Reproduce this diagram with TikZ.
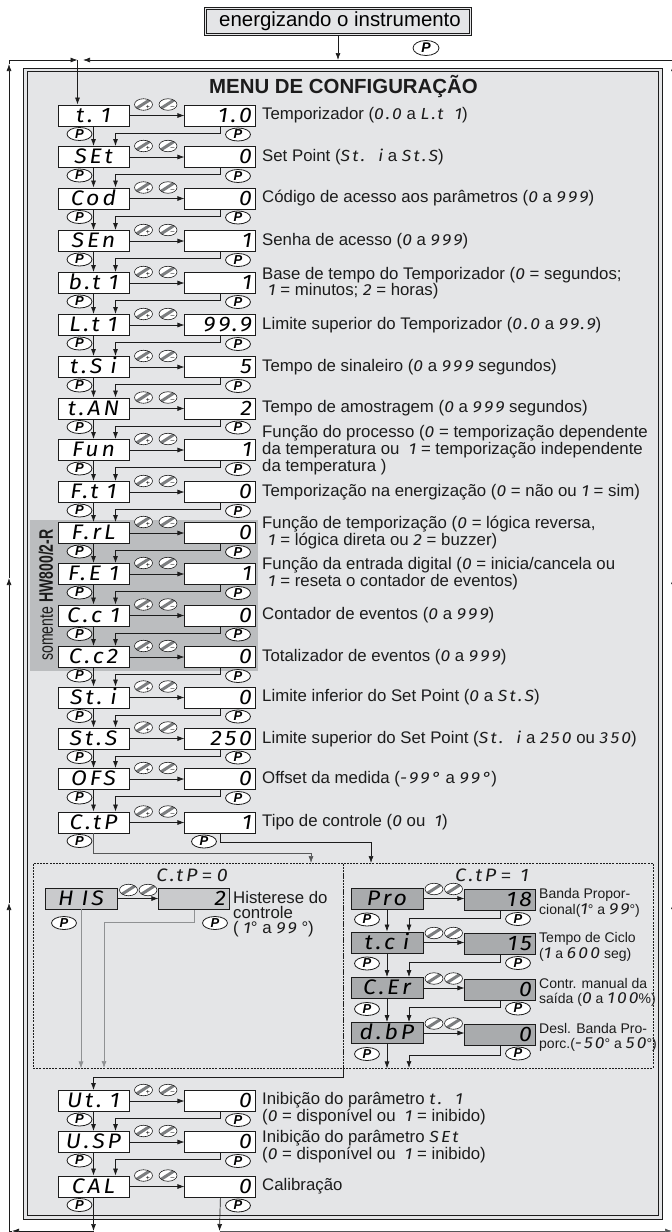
\documentclass[tikz,border=0pt]{standalone}
\usepackage{fontspec}
\usepackage{amsmath}
\usepackage{xcolor}
\usepackage{tikz}
\usetikzlibrary{positioning, shapes.geometric, arrows.meta, calc}
\setmainfont{Liberation Sans}
\newfontfamily\segfont[FakeStretch=1.1,LetterSpace=14,WordSpace=1.6]{Fira Sans}
\newfontfamily\estreita[FakeStretch=0.72]{Liberation Sans}
\definecolor{cfundo}{HTML}{E4E5E7}
\definecolor{cfaixa}{HTML}{BBBDBF}
\definecolor{chis}{HTML}{C9CACC}
\definecolor{cvisor}{HTML}{A9ABAD}
\definecolor{clinha}{HTML}{1C1C1C}
\definecolor{ccinza}{HTML}{8F9193}
\definecolor{ctecla}{HTML}{7C7E80}
\newcommand{\disp}[1]{{\segfont\itshape\fontsize{21}{21}\selectfont #1}}
\newcommand{\sg}[1]{{\segfont\itshape\fontsize{16}{16}\selectfont #1}}
\newcommand{\sgg}[1]{{\segfont\itshape\fontsize{18}{18}\selectfont #1}}
\newcommand{\esp}{\hspace{8pt}}
\newcommand{\pbx}{238}
\tikzset{
  seta/.style={draw=clinha, line width=.7pt, -{Latex[length=7pt,width=5pt]}},
  visor/.style={draw=clinha, fill=white, line width=.9pt, inner xsep=4pt, inner ysep=4pt,
    text width=63pt, align=center, text height=13pt, text depth=0pt},
  visorval/.style={visor, align=right},
  tecla/.style={draw=clinha, ellipse, fill=white, line width=.6pt, inner sep=0pt,
    minimum width=18pt, minimum height=11.5pt,
    path picture={\draw[ctecla, line width=3pt] (path picture bounding box.south west) -- (path picture bounding box.north east);}},
  tecmais/.style={tecla, path picture={\draw[ctecla, line width=3pt] ([shift={(-1pt,0pt)}]path picture bounding box.south west) -- ([shift={(-1pt,0pt)}]path picture bounding box.north east);
    \node[font=\fontsize{7}{7}\selectfont] (sinalmais) at ([shift={(4.5pt,-2.5pt)}]path picture bounding box.center) {+};}},
  tecmenos/.style={tecla, path picture={\draw[ctecla, line width=3pt] ([shift={(-1pt,0pt)}]path picture bounding box.south west) -- ([shift={(-1pt,0pt)}]path picture bounding box.north east);
    \node[font=\fontsize{7}{7}\selectfont] (sinalmenos) at ([shift={(4.5pt,-2.5pt)}]path picture bounding box.center) {--};}},
  tecp/.style={draw=clinha, ellipse, fill=white, line width=.8pt, inner sep=0pt,
    minimum width=25pt, minimum height=13pt, font=\fontsize{13}{13}\selectfont\bfseries\itshape},
  info/.style={anchor=west, inner sep=0pt, align=left, text=clinha, font=\fontsize{16.8}{15}\selectfont},
  infop/.style={info, font=\fontsize{14}{15.5}\selectfont},
  painel/.style={draw=clinha, line width=.9pt, dash pattern=on 2pt off 1.2pt},
}
% uma linha do menu
\newcommand{\parlinha}[6][0]{%
  \node[visor] (a#2) at (93.5,#3) {\disp{#4}};
  \node[visorval, right=55pt of a#2] (b#2) {\disp{#5}};
  \node[tecmais] (m#2) at (143.5,#3-11) {};
  \node[tecmenos] (n#2) at (168,#3-11) {};
  \node[tecp] (pa#2) at (79.5,#3+18.5) {P};
  \node[tecp] (pb#2) at (\pbx,#3+19) {P};
  \node[info] (i#2) at (262,#3+#1) {#6};
  \draw[seta] (a#2.east) -- (b#2.west);
}
\begin{document}
\begin{tikzpicture}[x=1pt, y=-1pt]
\useasboundingbox (0,0) rectangle (672,1232);

% moldura
\draw[clinha, line width=.9pt, fill=cfundo] (23,68) rectangle (662.5,1219);
\draw[clinha, line width=.9pt] (27,71.5) rectangle (658.5,1215);
\fill[cfaixa] (30,520) rectangle (258,671);

\node[draw=clinha, double=cfundo, double distance=1.2pt, line width=.7pt, fill=cfundo, inner sep=0pt,
      minimum width=265pt, minimum height=26.5pt, font=\fontsize{20.4}{20.4}\selectfont] (inicio) at (338,21.5) {\hspace*{4pt}energizando o instrumento};
\node[tecp, minimum width=26pt, minimum height=15pt, font=\fontsize{14}{14}\selectfont\bfseries\itshape] (pinicio) at (426,48) {P};
\node[font=\fontsize{20.4}{20.4}\selectfont\bfseries, text=clinha, inner sep=0pt] (titulo) at (343.5,87) {MENU DE CONFIGURAÇÃO};
\node[rotate=90, inner sep=0pt, text=clinha, font=\estreita\fontsize{19.5}{19.5}\selectfont] (somente) at (46,595) {somente {\bfseries HW800/2-R}};

\parlinha{1}{115.5}{t.\esp 1}{1.0}{Temporizador (\sg{0.0} a \sg{L.t 1})}
\parlinha{2}{157}{SEt}{0}{Set Point (\sg{St. i} a \sg{St.S})}
\parlinha{3}{198.5}{Cod}{0}{Código de acesso aos parâmetros (\sg{0} a \sg{999})}
\parlinha{4}{241}{SEn}{1}{Senha de acesso (\sg{0} a \sg{999})}
\parlinha{5}{283}{b.t\esp 1}{1}{Base de tempo do Temporizador (\sg{0} = segundos;\\\hspace*{6pt}\sg{1} = minutos; \sg{2} = horas)}
\parlinha{6}{325}{L.t\esp 1}{99.9}{Limite superior do Temporizador (\sg{0.0} a \sg{99.9})}
\parlinha{7}{367}{t.S\esp i}{5}{Tempo de sinaleiro (\sg{0} a \sg{999} segundos)}
\parlinha{8}{408.5}{t.AN}{2}{Tempo de amostragem (\sg{0} a \sg{999} segundos)}
\parlinha{9}{450}{Fun}{1}{Função do processo (\sg{0} = temporização dependente\\da temperatura ou \ \sg{1} = temporização independente\\da temperatura )}
\parlinha{10}{492}{F.t\esp 1}{0}{Temporização na energização (\sg{0} = não ou \sg{1} = sim)}
\parlinha{11}{533}{F.rL}{0}{Função de temporização (\sg{0} = lógica reversa,\\\hspace*{6pt}\sg{1} = lógica direta ou \sg{2} = buzzer)}
\parlinha{12}{574}{F.E\esp 1}{1}{Função da entrada digital (\sg{0} = inicia/cancela ou\\\hspace*{6pt}\sg{1} = reseta o contador de eventos)}
\parlinha{13}{615.5}{C.c\esp 1}{0}{Contador de eventos (\sg{0} a \sg{999})}
\parlinha{14}{657}{C.c2}{0}{Totalizador de eventos (\sg{0} a \sg{999})}
\parlinha{15}{697.5}{St.\esp i}{0}{Limite inferior do Set Point (\sg{0} a \sg{St.S})}
\parlinha{16}{738.5}{St.S}{250}{Limite superior do Set Point (\sg{St. i} a \sg{250} ou \sg{350})}
\parlinha{17}{779}{OFS}{0}{Offset da medida (\sg{-99°} a \sg{99°})}
\renewcommand{\pbx}{204}
\parlinha{18}{822.5}{C.tP}{1}{Tipo de controle (\sg{0} ou \ \sg{1})}
\renewcommand{\pbx}{238}
\parlinha[8]{19}{1101}{Ut.\esp 1}{0}{Inibição do parâmetro \sg{t. 1}\\(\sg{0} = disponível ou \ \sg{1} = inibido)}
\parlinha[4.5]{20}{1142}{U.SP}{0}{Inibição do parâmetro \sg{SEt}\\(\sg{0} = disponível ou \ \sg{1} = inibido)}
\parlinha{21}{1186.5}{CAL}{0}{Calibração}

\foreach \i [remember=\i as \j (initially 1)] in {2,...,18}{
  \draw[seta] (a\j.south) -- (a\i.north);
  \draw[seta] (b\j.south) -- ++(0,6.5) -| ([xshift=22pt]a\i.north);
}
\foreach \i [remember=\i as \j (initially 19)] in {20,21}{
  \draw[seta] (a\j.south) -- (a\i.north);
  \draw[seta] (b\j.south) -- ++(0,6.5) -| ([xshift=22pt]a\i.north);
}

% ramos de C.tP
\node[painel, minimum width=310pt, minimum height=205pt, inner sep=0pt] (ctpzero) at (188,965.5) {};
\node[painel, minimum width=310pt, minimum height=205pt, inner sep=0pt] (ctpum) at (498,965.5) {};
\node[inner sep=0pt, text=clinha, font=\fontsize{17}{17}\selectfont] (tzero) at (192,875) {\sgg{C.tP} = \sgg{0}};
\node[inner sep=0pt, text=clinha, font=\fontsize{17}{17}\selectfont] (tum) at (492,875) {\sgg{C.tP} = \ \sgg{1}};
\coordinate (alvozero) at (311,863);
\coordinate (alvoum) at (371,863);
\draw[seta, draw=ccinza!60!black] (a18.south) -- ++(0,20) -| (alvozero);
\draw[seta] (b18.south) -- ++(0,9) -| (alvoum);

\node[visor, fill=chis, minimum width=72pt] (his) at (81,898.5) {\disp{H\esp IS}};
\node[visorval, fill=chis, right=41pt of his, yshift=-.5pt] (hisv) {\disp{2}};
\node[tecla] (hism) at (128.5,890) {};
\node[tecla] (hisn) at (148,890) {};
\node[tecp] (phis) at (64,923) {P};
\node[tecp] (phisv) at (215,923) {P};
\node[info] (hist) at (233,914.5) {Histerese do\\controle\\( \sg{1}° a \sg{99} °)};
\draw[seta] (his.east) -- (his.east -| hisv.west);
\draw[seta, draw=ccinza] (his.south) -- (his.south |- ctpzero.south);
\coordinate (alvohis) at (104,1068);
\draw[seta, draw=ccinza] (hisv.south) -- ++(0,12) -| (alvohis);

\foreach \i/\ry/\code/\val/\texto in {%
  1/898.5/Pro/18/{Banda Propor-\\cional(\sg{1}° a \sg{99}°)},
  2/942.5/t.c\esp i/15/{Tempo de Ciclo\\(\sg{1} a \sg{600} seg)},
  3/988/C.Er/0/{Contr. manual da\\saída (\sg{0} a \sg{100}\%)},
  4/1033/d.bP/0/{Desl. Banda Pro-\\porc.(\sg{-50}° a \sg{50}°)}}{
  \node[visor, fill=cvisor, minimum width=72pt] (c\i) at (387,\ry) {\disp{\code}};
  \node[visorval, fill=cvisor, right=41pt of c\i, yshift=-1.5pt] (d\i) {\disp{\val}};
  \node[tecla] (e\i) at (434,\ry-9.5) {};
  \node[tecla] (f\i) at (453.5,\ry-9.5) {};
  \node[tecp] (g\i) at (367,\ry+21) {P};
  \node[tecp] (h\i) at (518,\ry+20.5) {P};
  \node[infop] (k\i) at (539,\ry+4.5) {\renewcommand{\sg}[1]{{\segfont\itshape\fontsize{13}{13}\selectfont ##1}}\texto};
  \draw[seta] (c\i.east) -- (c\i.east -| d\i.west);
}
\foreach \i [remember=\i as \j (initially 1)] in {2,3,4}{
  \draw[seta] (c\j.south) -- (c\i.north);
  \draw[seta] (d\j.south) -- ++(0,7) -| ([xshift=22pt]c\i.north);
}
\draw[seta] (c4.south) -- (c4.south |- ctpum.south);
\coordinate (alvod) at (409,1068);
\draw[seta] (d4.south) -- ++(0,10) -| (alvod);
\draw[seta] (ctpzero.south east) -- ++(0,9) -| (a19.north);

% laco externo
\coordinate (cantobe) at (9,1231);
\coordinate (cantose) at (9,60);
\coordinate (esqa) at (9,903);
\coordinate (esqb) at (9,578);
\coordinate (esqc) at (9,64);
\coordinate (entrae) at (77.5,60);
\coordinate (entrad) at (83,60);
\coordinate (cantosd) at (673,60);
\coordinate (fime) at (93.5,1231);
\coordinate (fimd) at (219.5,1231);
\coordinate (saidae) at (12,1231);
\coordinate (saidad) at (672,1231);
\coordinate (dira) at (673.5,920);
\coordinate (dirb) at (673.5,902);
\coordinate (dirc) at (673.5,595);
\coordinate (dird) at (673.5,577);
\coordinate (dire) at (673.5,85);
\coordinate (dirf) at (673.5,64);
\draw[seta] (inicio.south) -- (inicio.south |- cantose);
\draw[seta] (cantobe) -- (esqa);
\draw[seta] (esqa) -- (esqb);
\draw[seta] (esqb) -- (esqc);
\draw[seta] (esqc) -- (cantose) -- (entrae);
\draw[seta] (cantosd) -- (entrad);
\draw[seta] (entrae) -- (entrae |- a1.north);
\draw[seta] (a21.south) -- (fime);
\draw[seta] (b21.south) -- (fimd);
\draw[seta] (fime) -- (saidae);
\draw[seta, draw=ccinza!60!black] (fimd) -- (saidad);
\draw[clinha, line width=.7pt] (saidae) -- (cantobe);
\draw[seta] (dira) -- (dirb);
\draw[seta] (dirc) -- (dird);
\draw[seta] (dire) -- (dirf);
\end{tikzpicture}
\end{document}
